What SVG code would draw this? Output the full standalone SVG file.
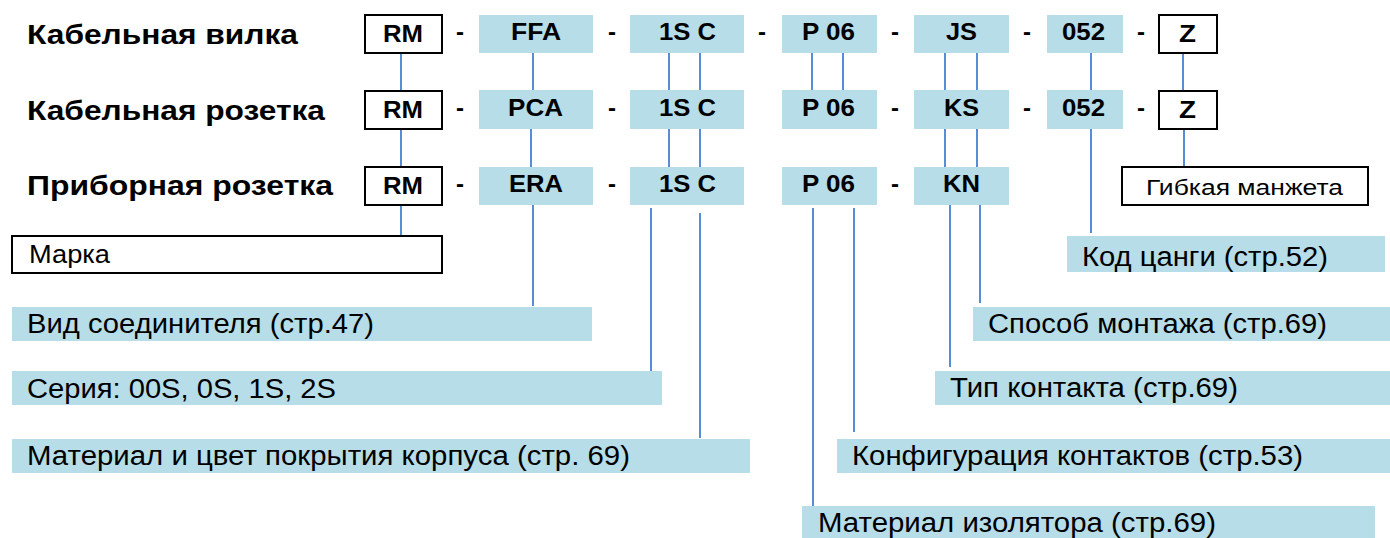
<svg xmlns="http://www.w3.org/2000/svg" width="1390" height="538" viewBox="0 0 1390 538">
<style>
text{font-family:"Liberation Sans",Arial,sans-serif;fill:#000}
.t{font-weight:bold;font-size:28px}
.c{font-weight:bold;font-size:24px}
.d{font-weight:bold;font-size:24px;text-anchor:middle}
.l{font-size:27px}
.s{font-size:22px}
.b{fill:#B7DDE8}
.w{fill:#fff;stroke:#000;stroke-width:2}
.k{stroke:#558ED5;stroke-width:2;fill:none}
</style>
<rect width="1390" height="538" fill="#fff"/>
<g id="titles">
<text class="t" x="27" y="44" textLength="271" lengthAdjust="spacingAndGlyphs">Кабельная вилка</text>
<text class="t" x="27" y="120" textLength="298" lengthAdjust="spacingAndGlyphs">Кабельная розетка</text>
<text class="t" x="27" y="195" textLength="306" lengthAdjust="spacingAndGlyphs">Приборная розетка</text>
</g>
<g id="connectors">
<path class="k" d="M401 53V90M401 129V167M401 205V236"/>
<path class="k" d="M533 53V90M531 129V167"/>
<path class="k" d="M533 205V306" stroke="#0070C0"/>
<path class="k" d="M669 53V90M700 53V90M669 129V167M700 129V167"/>
<path class="k" d="M651 208V371M700 213V438"/>
<path class="k" d="M812 53V90M843 53V90"/>
<path class="k" d="M813 208V506" stroke-width="3"/>
<path class="k" d="M854 208V432"/>
<path class="k" d="M945 53V90M977 53V90M945 129V167M977 129V167"/>
<path class="k" d="M950 205V367M980 205V303"/>
<path class="k" d="M1091 53V90M1091 129V233"/>
<path class="k" d="M1183 53V90M1184 129V167"/>
</g>
<g id="row1">
<rect class="w" x="365" y="15" width="77" height="38"/><text class="c" x="383" y="42" textLength="40" lengthAdjust="spacingAndGlyphs">RM</text>
<text class="d" x="460" y="40">-</text>
<rect class="b" x="479" y="15" width="114" height="38"/><text class="c" x="511" y="40" textLength="50" lengthAdjust="spacingAndGlyphs">FFA</text>
<text class="d" x="612" y="40">-</text>
<rect class="b" x="630" y="15" width="114" height="38"/><text class="c" x="659" y="40" textLength="57" lengthAdjust="spacingAndGlyphs">1S C</text>
<text class="d" x="762" y="40">-</text>
<rect class="b" x="782" y="15" width="95" height="38"/><text class="c" x="802" y="40" textLength="53" lengthAdjust="spacingAndGlyphs">P 06</text>
<text class="d" x="895" y="40">-</text>
<rect class="b" x="914" y="15" width="95" height="38"/><text class="c" x="946" y="40" textLength="31" lengthAdjust="spacingAndGlyphs">JS</text>
<text class="d" x="1027" y="40">-</text>
<rect class="b" x="1047" y="15" width="76" height="38"/><text class="c" x="1062" y="40" textLength="43" lengthAdjust="spacingAndGlyphs">052</text>
<text class="d" x="1141" y="40">-</text>
<rect class="w" x="1159" y="15" width="58" height="38"/><text class="c" x="1179" y="42" textLength="17" lengthAdjust="spacingAndGlyphs">Z</text>
</g>
<g id="row2">
<rect class="w" x="365" y="91" width="77" height="38"/><text class="c" x="383" y="118" textLength="40" lengthAdjust="spacingAndGlyphs">RM</text>
<text class="d" x="460" y="116">-</text>
<rect class="b" x="479" y="90" width="114" height="39"/><text class="c" x="508" y="116" textLength="55" lengthAdjust="spacingAndGlyphs">PCA</text>
<text class="d" x="612" y="116">-</text>
<rect class="b" x="630" y="90" width="114" height="39"/><text class="c" x="659" y="116" textLength="57" lengthAdjust="spacingAndGlyphs">1S C</text>
<rect class="b" x="782" y="90" width="95" height="39"/><text class="c" x="802" y="116" textLength="53" lengthAdjust="spacingAndGlyphs">P 06</text>
<text class="d" x="895" y="116">-</text>
<rect class="b" x="914" y="90" width="95" height="39"/><text class="c" x="944" y="116" textLength="35" lengthAdjust="spacingAndGlyphs">KS</text>
<text class="d" x="1027" y="116">-</text>
<rect class="b" x="1047" y="90" width="76" height="39"/><text class="c" x="1062" y="116" textLength="43" lengthAdjust="spacingAndGlyphs">052</text>
<text class="d" x="1141" y="116">-</text>
<rect class="w" x="1159" y="91" width="58" height="38"/><text class="c" x="1179" y="118" textLength="17" lengthAdjust="spacingAndGlyphs">Z</text>
</g>
<g id="row3">
<rect class="w" x="365" y="167" width="77" height="38"/><text class="c" x="383" y="194" textLength="40" lengthAdjust="spacingAndGlyphs">RM</text>
<text class="d" x="460" y="192">-</text>
<rect class="b" x="479" y="167" width="114" height="38"/><text class="c" x="509" y="192" textLength="54" lengthAdjust="spacingAndGlyphs">ERA</text>
<text class="d" x="612" y="192">-</text>
<rect class="b" x="630" y="167" width="114" height="38"/><text class="c" x="659" y="192" textLength="57" lengthAdjust="spacingAndGlyphs">1S C</text>
<rect class="b" x="782" y="167" width="95" height="38"/><text class="c" x="802" y="192" textLength="53" lengthAdjust="spacingAndGlyphs">P 06</text>
<text class="d" x="895" y="192">-</text>
<rect class="b" x="914" y="167" width="95" height="38"/><text class="c" x="943" y="192" textLength="37" lengthAdjust="spacingAndGlyphs">KN</text>
</g>
<g id="flex">
<rect class="w" x="1122" y="167" width="246" height="38"/><text class="s" x="1146" y="195" textLength="197" lengthAdjust="spacingAndGlyphs">Гибкая манжета</text>
</g>
<g id="marka">
<rect class="w" x="12" y="236" width="430" height="37"/><text class="s" x="29" y="263" style="font-size:25px" textLength="81" lengthAdjust="spacingAndGlyphs">Марка</text>
</g>
<g id="vid"><rect class="b" x="12" y="307" width="580" height="34"/><text class="l" x="27" y="333" textLength="347" lengthAdjust="spacingAndGlyphs">Вид соединителя (стр.47)</text></g>
<g id="seria"><rect class="b" x="12" y="371" width="650" height="34"/><text class="l" x="27" y="398" textLength="309" lengthAdjust="spacingAndGlyphs">Серия: 00S, 0S, 1S, 2S</text></g>
<g id="material"><rect class="b" x="12" y="439" width="738" height="34"/><text class="l" x="27" y="465" textLength="603" lengthAdjust="spacingAndGlyphs">Материал и цвет покрытия корпуса (стр. 69)</text></g>
<g id="kod"><rect class="b" x="1067" y="236" width="318" height="36"/><text class="l" x="1082" y="266" textLength="246" lengthAdjust="spacingAndGlyphs">Код цанги (стр.52)</text></g>
<g id="sposob"><rect class="b" x="973" y="307" width="417" height="34"/><text class="l" x="988" y="333" textLength="339" lengthAdjust="spacingAndGlyphs">Способ монтажа (стр.69)</text></g>
<g id="tip"><rect class="b" x="935" y="371" width="455" height="34"/><text class="l" x="950" y="397" textLength="288" lengthAdjust="spacingAndGlyphs">Тип контакта (стр.69)</text></g>
<g id="konf"><rect class="b" x="837" y="439" width="553" height="34"/><text class="l" x="852" y="465" textLength="451" lengthAdjust="spacingAndGlyphs">Конфигурация контактов (стр.53)</text></g>
<g id="izol"><rect class="b" x="802" y="506" width="573" height="32"/><text class="l" x="818" y="532" textLength="398" lengthAdjust="spacingAndGlyphs">Материал изолятора (стр.69)</text></g>
</svg>
